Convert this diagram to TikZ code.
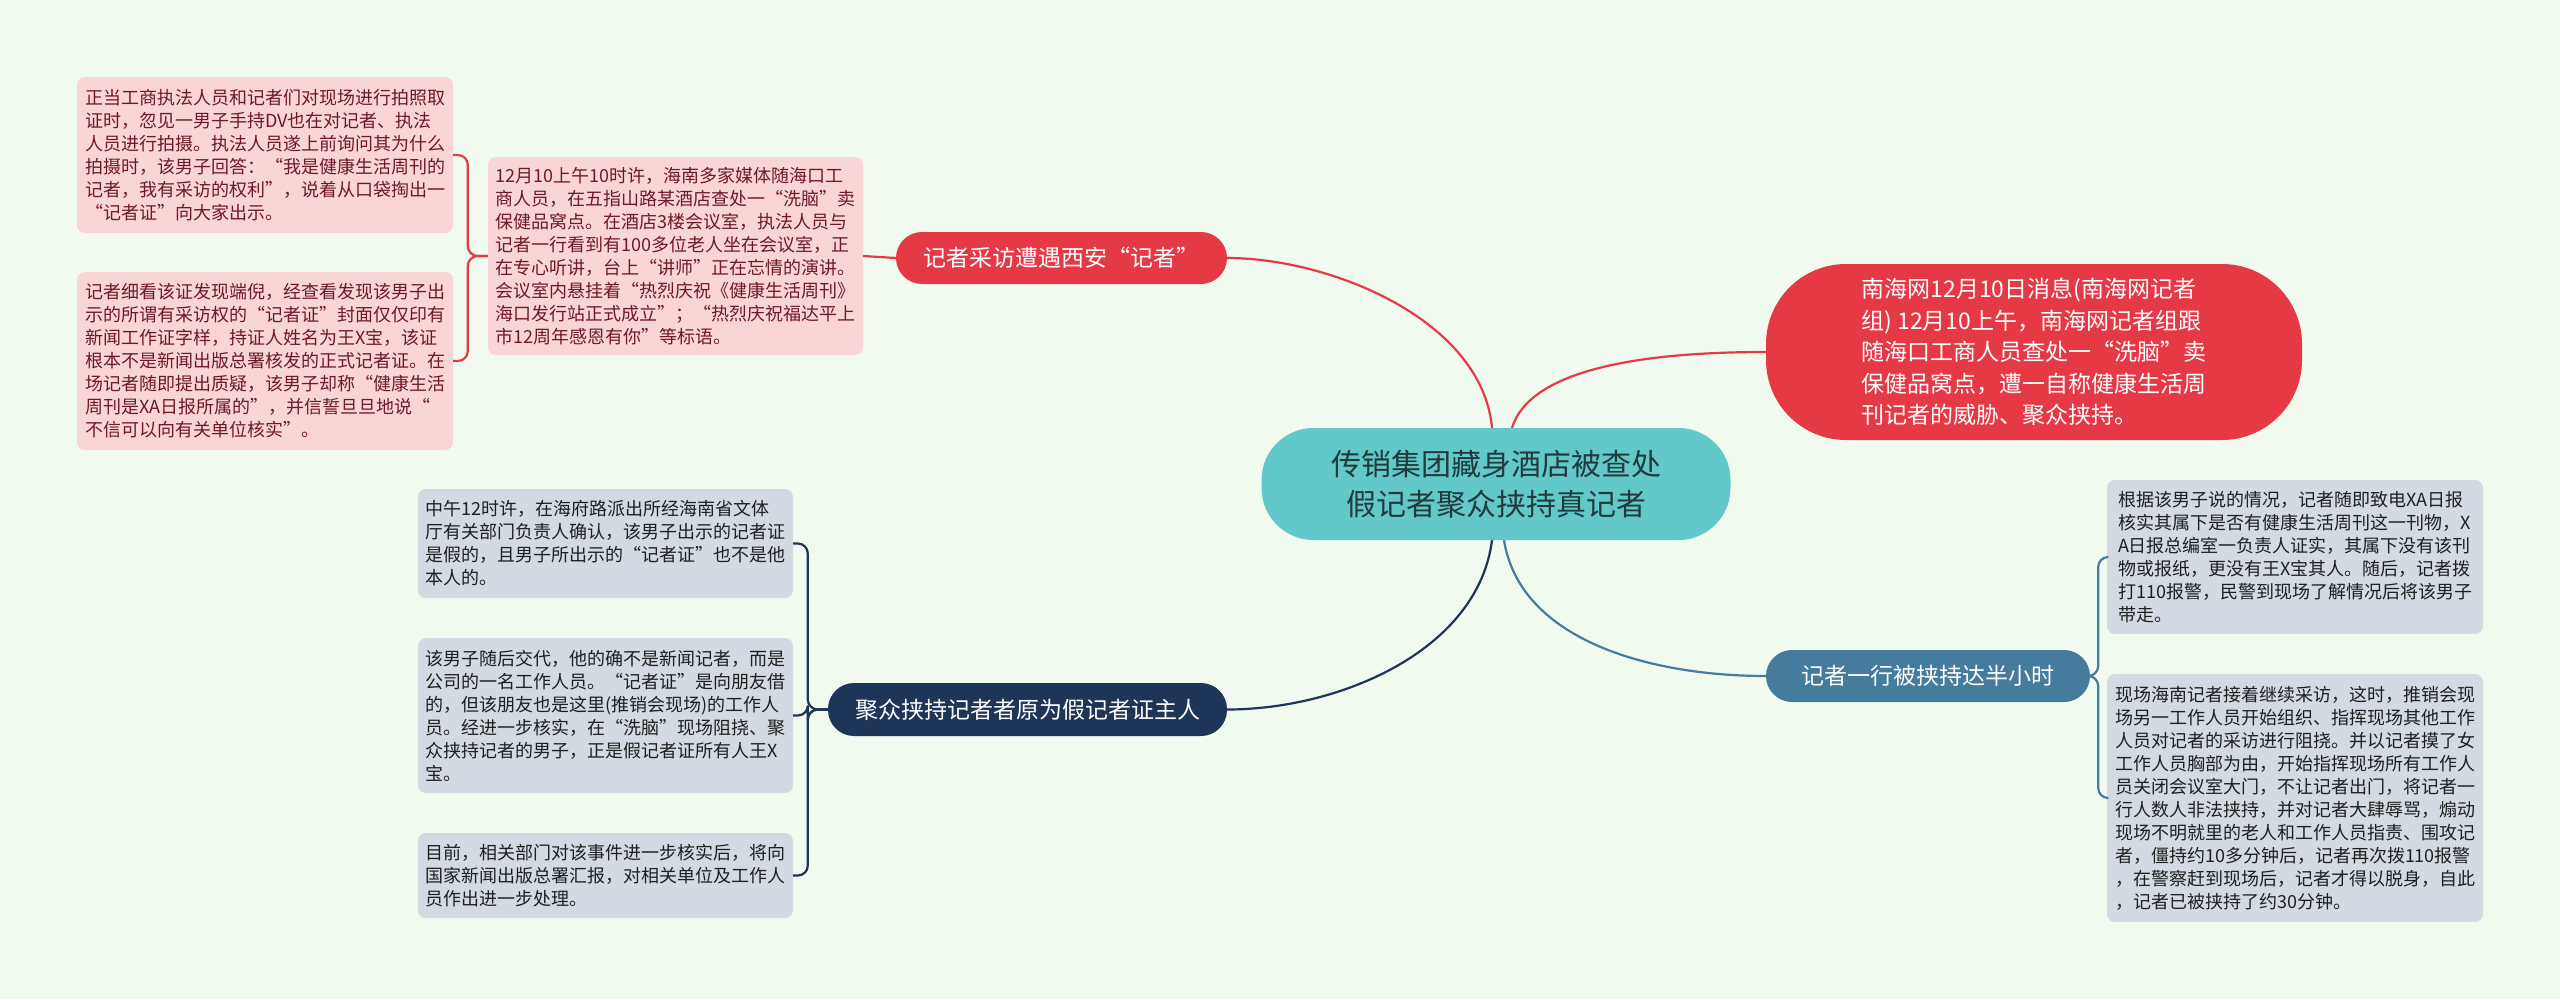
\documentclass[tikz,border=0pt]{standalone}
\usepackage{fontspec}
\setmainfont{Noto Sans CJK SC}
\definecolor{bg}{HTML}{F1FAEE}
\definecolor{cred}{HTML}{E63946}
\definecolor{cnavy}{HTML}{1D3557}
\definecolor{csteel}{HTML}{457B9D}
\definecolor{cteal}{HTML}{62C8CA}
\definecolor{pinkfill}{HTML}{F9D5D8}
\definecolor{pinktext}{HTML}{6E1A25}
\definecolor{grayfill}{HTML}{D3DAE2}
\definecolor{graytext}{HTML}{1F1F1F}
\definecolor{centertext}{HTML}{1F3B3D}
\begin{document}
\begin{tikzpicture}[x=1pt,y=-1pt,
  leafpink/.style={fill=pinkfill, text=pinktext, rounded corners=8, inner sep=0pt,
    font=\fontsize{18}{23}\selectfont, align=left},
  leafgray/.style={fill=grayfill, text=graytext, rounded corners=8, inner sep=0pt,
    font=\fontsize{18}{23}\selectfont, align=left},
  branchbox/.style={rounded corners=26, inner sep=0pt, text=white,
    font=\fontsize{23}{28}\selectfont, align=center},
  conred/.style={draw=cred, line width=2.2pt},
  connavy/.style={draw=cnavy, line width=2.2pt},
  consteel/.style={draw=csteel, line width=2.2pt}
]
\fill[bg] (0,0) rectangle (2560,999);
\useasboundingbox (0,0) rectangle (2560,999);

% central
\node[fill=cteal, text=centertext, rounded corners=52, minimum width=469pt, minimum height=112pt,
  inner sep=0pt, font=\fontsize{30}{40}\selectfont, align=center] (C) at (1496,484)
  {传销集团藏身酒店被查处\\假记者聚众挟持真记者};

% right red node
\node[fill=cred, text=white, rounded corners=80, minimum width=536pt, minimum height=176pt,
  inner sep=0pt, font=\fontsize{23}{31.6}\selectfont, align=left] (RR) at (2034,352)
  {南海网12月10日消息(南海网记者\\组) 12月10上午，南海网记者组跟\\随海口工商人员查处一“洗脑”卖\\保健品窝点，遭一自称健康生活周\\刊记者的威胁、聚众挟持。};

% branches
\node[branchbox, fill=cred, minimum width=331pt, minimum height=52pt] (TB) at (1061.5,258)
  {记者采访遭遇西安“记者”};
\node[branchbox, fill=cnavy, minimum width=399pt, minimum height=53pt] (BB) at (1027.5,709.5)
  {聚众挟持记者者原为假记者证主人};
\node[branchbox, fill=csteel, minimum width=324pt, minimum height=52pt] (RB) at (1928,676)
  {记者一行被挟持达半小时};

% pink leaves
\node[leafpink, minimum width=375pt, minimum height=198pt] (M) at (675.5,256)
  {12月10上午10时许，海南多家媒体随海口工\\商人员，在五指山路某酒店查处一“洗脑”卖\\保健品窝点。在酒店3楼会议室，执法人员与\\记者一行看到有100多位老人坐在会议室，正\\在专心听讲，台上“讲师”正在忘情的演讲。\\会议室内悬挂着“热烈庆祝《健康生活周刊》\\海口发行站正式成立”；“热烈庆祝福达平上\\市12周年感恩有你”等标语。};
\node[leafpink, minimum width=376pt, minimum height=156pt] (L1) at (265,155)
  {正当工商执法人员和记者们对现场进行拍照取\\证时，忽见一男子手持DV也在对记者、执法\\人员进行拍摄。执法人员遂上前询问其为什么\\拍摄时，该男子回答：“我是健康生活周刊的\\记者，我有采访的权利”，说着从口袋掏出一\\“记者证”向大家出示。};
\node[leafpink, minimum width=376pt, minimum height=178pt] (L2) at (265,361)
  {记者细看该证发现端倪，经查看发现该男子出\\示的所谓有采访权的“记者证”封面仅仅印有\\新闻工作证字样，持证人姓名为王X宝，该证\\根本不是新闻出版总署核发的正式记者证。在\\场记者随即提出质疑，该男子却称“健康生活\\周刊是XA日报所属的”，并信誓旦旦地说“\\不信可以向有关单位核实”。};

% right gray leaves
\node[leafgray, minimum width=376pt, minimum height=154pt] (R1) at (2295,557)
  {根据该男子说的情况，记者随即致电XA日报\\核实其属下是否有健康生活周刊这一刊物，X\\A日报总编室一负责人证实，其属下没有该刊\\物或报纸，更没有王X宝其人。随后，记者拨\\打110报警，民警到现场了解情况后将该男子\\带走。};
\node[leafgray, minimum width=376pt, minimum height=248pt] (R2) at (2295,798)
  {现场海南记者接着继续采访，这时，推销会现\\场另一工作人员开始组织、指挥现场其他工作\\人员对记者的采访进行阻挠。并以记者摸了女\\工作人员胸部为由，开始指挥现场所有工作人\\员关闭会议室大门，不让记者出门，将记者一\\行人数人非法挟持，并对记者大肆辱骂，煽动\\现场不明就里的老人和工作人员指责、围攻记\\者，僵持约10多分钟后，记者再次拨110报警\\，在警察赶到现场后，记者才得以脱身，自此\\，记者已被挟持了约30分钟。};

% bottom-left gray leaves
\node[leafgray, minimum width=375pt, minimum height=109pt] (B1) at (605.5,543.5)
  {中午12时许，在海府路派出所经海南省文体\\厅有关部门负责人确认，该男子出示的记者证\\是假的，且男子所出示的“记者证”也不是他\\本人的。};
\node[leafgray, minimum width=375pt, minimum height=155pt] (B2) at (605.5,715.5)
  {该男子随后交代，他的确不是新闻记者，而是\\公司的一名工作人员。“记者证”是向朋友借\\的，但该朋友也是这里(推销会现场)的工作人\\员。经进一步核实，在“洗脑”现场阻挠、聚\\众挟持记者的男子，正是假记者证所有人王X\\宝。};
\node[leafgray, minimum width=375pt, minimum height=85pt] (B3) at (605.5,875.5)
  {目前，相关部门对该事件进一步核实后，将向\\国家新闻出版总署汇报，对相关单位及工作人\\员作出进一步处理。};

% central connectors
\draw[conred] ([xshift=-4pt]C.north) .. controls +(-10,-108) and +(103,0) .. (TB.east);
\draw[conred] ([xshift=16pt]C.north) .. controls +(18,-58) and +(-126,0) .. (RR.west);
\draw[consteel] ([xshift=8pt]C.south) .. controls +(16,100) and +(-116,0) .. (RB.west);
\draw[connavy] ([xshift=-4pt]C.south) .. controls +(-14,110) and +(113,0) .. (BB.east);

% sub connectors
\draw[conred] (TB.west) -- (M.east);
\draw[conred, rounded corners=10] (M.west) -- ++(-20,0) |- (L1.east);
\draw[conred, rounded corners=10] (M.west) -- ++(-20,0) |- (L2.east);
\draw[consteel, rounded corners=10] (RB.east) -- ++(8,0) |- (R1.west);
\draw[consteel, rounded corners=10] (RB.east) -- ++(8,0) |- (R2.west);
\draw[connavy, rounded corners=10] (BB.west) -- ++(-20,0) |- (B1.east);
\draw[connavy, rounded corners=10] (BB.west) -- ++(-20,0) |- (B2.east);
\draw[connavy, rounded corners=10] (BB.west) -- ++(-20,0) |- (B3.east);
\end{tikzpicture}
\end{document}
